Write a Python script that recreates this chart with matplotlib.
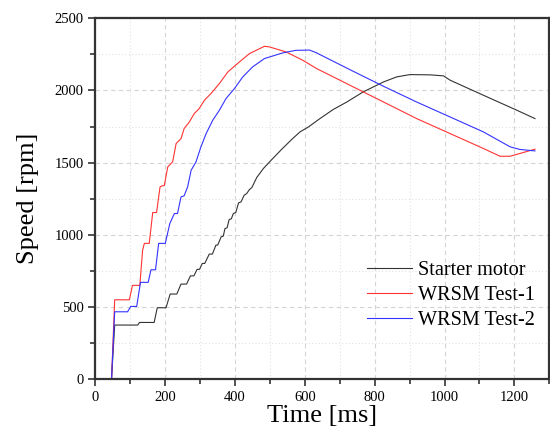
import matplotlib
matplotlib.use("Agg")
import matplotlib.pyplot as plt
from matplotlib.ticker import MultipleLocator

plt.rcParams["font.family"] = ["Liberation Serif", "DejaVu Serif"]

# Starter motor (time in ms, speed in rpm)
t_starter = [0, 46, 55, 121, 126, 168, 177, 202, 214, 233, 245, 261, 272, 282,
             291, 298, 306, 313, 326, 335, 345, 350, 360, 366, 371, 377, 383,
             389, 395, 402, 410, 417, 426, 433, 441, 448, 462, 481, 505, 533,
             562, 586, 610, 643, 681, 720, 767, 825, 863, 901, 960, 997, 1016,
             1111, 1207, 1259]
v_starter = [0, 0, 374, 374, 392, 392, 494, 494, 589, 589, 658, 658, 715, 715,
             760, 760, 801, 801, 866, 866, 928, 928, 985, 990, 1043, 1048, 1106,
             1110, 1147, 1155, 1221, 1228, 1274, 1285, 1313, 1327, 1397, 1459,
             1521, 1591, 1660, 1713, 1747, 1805, 1868, 1920, 1990, 2059, 2094,
             2110, 2108, 2101, 2071, 1967, 1863, 1805]

# WRSM Test-1
t_test1 = [0, 46, 55, 97, 106, 127, 135, 140, 154, 164, 175, 185, 192, 197,
           207, 221, 231, 245, 254, 269, 283, 297, 312, 331, 355, 379, 412,
           441, 484, 498, 546, 594, 634, 729, 825, 920, 1016, 1111, 1159, 1188,
           1259]
v_test1 = [0, 0, 549, 549, 649, 649, 893, 940, 940, 1154, 1154, 1332, 1340,
           1340, 1470, 1505, 1632, 1666, 1736, 1782, 1840, 1874, 1932, 1979,
           2048, 2128, 2197, 2255, 2306, 2302, 2267, 2209, 2151, 2036, 1920,
           1805, 1701, 1598, 1544, 1544, 1593]

# WRSM Test-2
t_test2 = [0, 46, 55, 92, 101, 118, 129, 151, 159, 172, 181, 200, 213, 226,
           235, 245, 254, 264, 274, 288, 302, 317, 336, 355, 374, 398, 422,
           450, 484, 536, 574, 613, 632, 729, 825, 920, 1016, 1111, 1188, 1216,
           1259]
v_test2 = [0, 0, 466, 466, 503, 503, 670, 670, 757, 757, 940, 940, 1078, 1147,
           1147, 1262, 1270, 1332, 1447, 1505, 1609, 1701, 1794, 1863, 1944,
           2013, 2094, 2163, 2221, 2260, 2278, 2280, 2262, 2144, 2029, 1920,
           1816, 1713, 1609, 1591, 1581]

fig = plt.figure(figsize=(5.5, 4.36), dpi=100)
ax = fig.add_axes([0.1736, 0.1307, 0.8251, 0.8273])

ax.plot(t_starter, v_starter, color="#333333", lw=0.8, label="Starter motor")
ax.plot(t_test1, v_test1, color="#ff3333", lw=0.8, label="WRSM Test-1")
ax.plot(t_test2, v_test2, color="#3333ff", lw=0.8, label="WRSM Test-2")

ax.set_xlim(0, 1300)
ax.set_ylim(0, 2500)
ax.xaxis.set_major_locator(MultipleLocator(200))
ax.xaxis.set_minor_locator(MultipleLocator(100))
ax.yaxis.set_major_locator(MultipleLocator(500))
ax.yaxis.set_minor_locator(MultipleLocator(250))

ax.grid(which="major", color="#d4d4d4", linestyle=(0, (4, 3)), lw=0.8)
ax.grid(which="minor", color="#e2e2e2", linestyle=(0, (1, 2)), lw=0.8)
ax.set_axisbelow(True)

ax.tick_params(which="both", direction="out", top=False, right=False,
               labelsize=10.5, width=1.2, colors="#333333", labelcolor="black")
ax.tick_params(which="major", length=5)
ax.tick_params(which="minor", length=3.5)
for s in ax.spines.values():
    s.set_linewidth(1.6)
    s.set_color("#333333")

ax.set_xlabel("Time [ms]", fontsize=19, labelpad=1)
ax.set_ylabel("Speed [rpm]", fontsize=19, labelpad=11)

ax.legend(loc="lower right", frameon=False, fontsize=14.6, handlelength=2.2,
          handletextpad=0.3, labelspacing=0.28, borderpad=0, borderaxespad=0,
          bbox_to_anchor=(0.968, 0.137))

fig.savefig("out.png", dpi=100)
